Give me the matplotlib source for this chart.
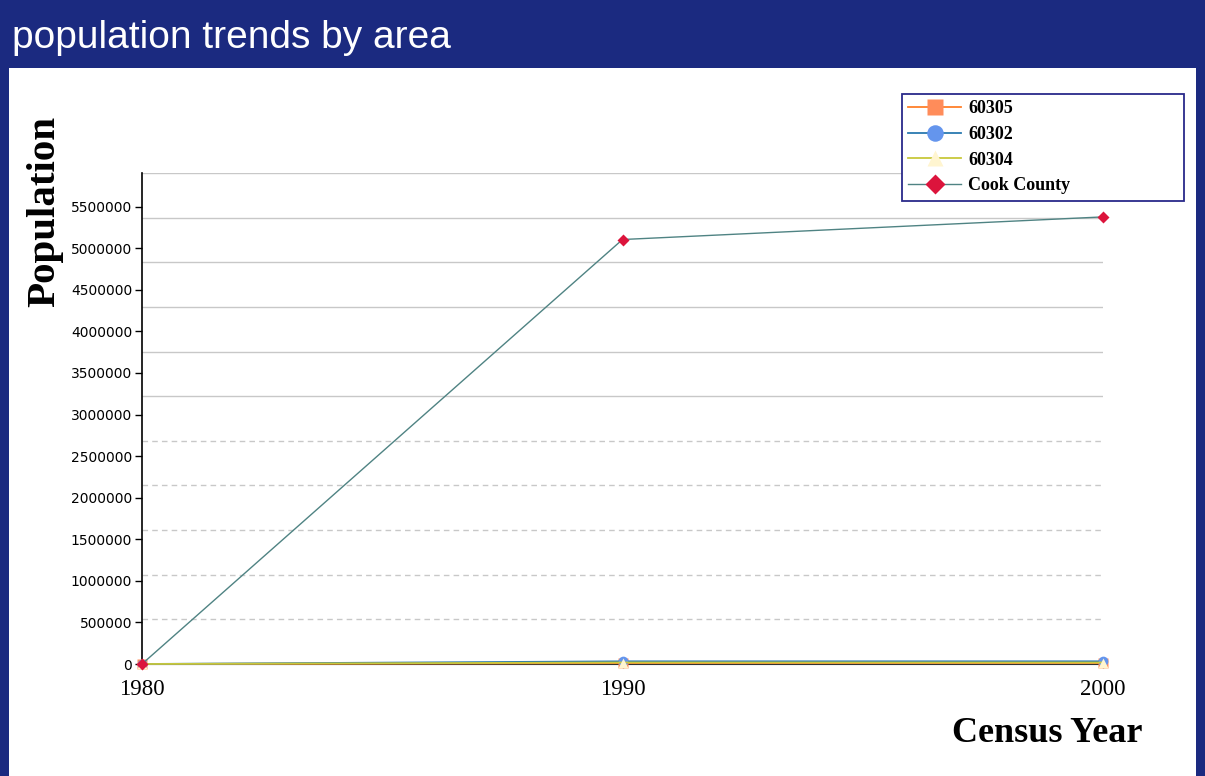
import matplotlib
matplotlib.use("Agg")
import matplotlib.pyplot as plt
from matplotlib.patches import Rectangle
import numpy as np

years = [1980, 1990, 2000]
series_names = ["60305", "60302", "60304", "Cook County"]
pop_60305 = [0, 11000, 11757]
pop_60302 = [0, 32000, 32161]
pop_60304 = [0, 18000, 17700]
pop_cook = [0, 5105000, 5377000]
y_ticks = list(range(0, 5500001, 500000))
x_ticks = [1980, 1990, 2000]

NAVY = "#1b2a80"
fig = plt.figure(figsize=(12.05, 7.76), dpi=100)
fig.patch.set_facecolor("white")

# header and frame
fig.add_artist(Rectangle((0, 1 - 68 / 776), 1, 68 / 776, transform=fig.transFigure,
                         facecolor=NAVY, edgecolor="none", zorder=0))
fig.add_artist(Rectangle((0, 0), 9 / 1205, 1, transform=fig.transFigure,
                         facecolor=NAVY, edgecolor="none", zorder=0))
fig.add_artist(Rectangle((1 - 9 / 1205, 0), 9 / 1205, 1, transform=fig.transFigure,
                         facecolor=NAVY, edgecolor="none", zorder=0))
fig.text(12 / 1205, 1 - 38 / 776, "population trends by area", color="white",
         family="Liberation Sans", fontsize=28, va="center", ha="left")

ax = fig.add_axes([142 / 1205, 112 / 776, (1103 - 142) / 1205, (664 - 173) / 776])
ymax = 5905000
ax.set_xlim(1980, 2000)
ax.set_ylim(0, ymax)

# gridlines: 11 equal divisions of the axis height
grid_vals = np.linspace(0, ymax, 12)[1:]
for i, g in enumerate(grid_vals):
    ax.axhline(g, color="#c8c8c8", lw=1.0, ls=(0, (4, 3)) if i < 5 else "-", zorder=0.5)

ax.plot(years, pop_60305, color="#ff7f2a", lw=1.3, marker="s", ms=7,
        mfc="#ff8c5a", mec="none", label=series_names[0], clip_on=False, zorder=3)
ax.plot(years, pop_60302, color="#2a7ab0", lw=1.3, marker="o", ms=7,
        mfc="#6495ed", mec="none", label=series_names[1], clip_on=False, zorder=3)
ax.plot(years, pop_60304, color="#c8c83c", lw=1.3, marker="^", ms=7,
        mfc="#fff5d0", mec="none", label=series_names[2], clip_on=False, zorder=3)
ax.plot(years, pop_cook, color="#4f8383", lw=1.0, marker="D", ms=6,
        mfc="#dc143c", mec="none", label=series_names[3], clip_on=False, zorder=4)

for s in ["top", "right"]:
    ax.spines[s].set_visible(False)
ax.spines["left"].set_color("black")
ax.spines["bottom"].set_color("#333333")
ax.spines["left"].set_linewidth(1.2)

ax.set_yticks(y_ticks)
ax.set_yticklabels([str(v) for v in y_ticks], family="DejaVu Sans", fontsize=10)
ax.set_xticks(x_ticks)
ax.set_xticklabels([str(v) for v in x_ticks], family="Liberation Serif", fontsize=16.5)
ax.tick_params(axis="y", length=5, width=1, pad=2)
ax.tick_params(axis="x", length=3, width=1, pad=8)

fig.text(45 / 1205, 1 - 211 / 776, "Population", rotation=90, family="Liberation Serif",
         fontweight="bold", fontsize=29.5, ha="center", va="center")
fig.text(1142 / 1205, 1 - 733 / 776, "Census Year", family="Liberation Serif",
         fontweight="bold", fontsize=26, ha="right", va="center")

leg = fig.legend(loc="upper left",
                 bbox_to_anchor=(902 / 1205, (776 - 197) / 776, 282 / 1205, 103 / 776),
                 mode="expand",
                 prop={"family": "Liberation Serif", "weight": "bold", "size": 13},
                 frameon=True, fancybox=False, edgecolor="#2a2a8a", framealpha=1,
                 markerscale=1.7, handlelength=2.9, handletextpad=0.4,
                 labelspacing=0.48, borderpad=0.35, borderaxespad=0)
leg.get_frame().set_linewidth(1.3)

fig.savefig("out.png", dpi=100)
